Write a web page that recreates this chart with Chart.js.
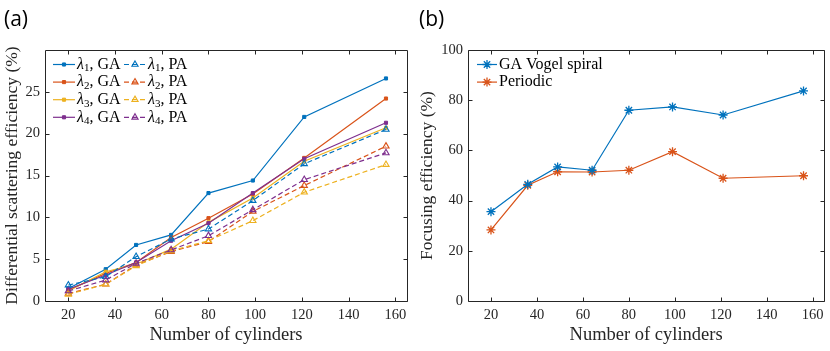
<!DOCTYPE html>
<html>
<head>
<meta charset="utf-8">
<script src="https://cdn.jsdelivr.net/npm/chart.js@4.4.1/dist/chart.umd.min.js"></script>
<style>
  html, body { margin: 0; padding: 0; background: #fff; }
  .panel { position: absolute; top: 0; width: 415px; height: 351px; }
  .tag { position: absolute; top: 4px; font: 21px "Open Sans", sans-serif; color: #000; }
</style>
</head>
<body>
<div class="panel" style="left:0"><canvas id="chartA" width="415" height="351"></canvas></div>
<div class="panel" style="left:415px"><canvas id="chartB" width="415" height="351"></canvas></div>
<div class="tag" style="left:4px">(a)</div>
<div class="tag" style="left:419px">(b)</div>
<script>
// number of cylinders (shared by both panels)
const cylinders = [20, 36, 49, 64, 80, 99, 121, 156];
const xTicks = [20, 40, 60, 80, 100, 120, 140, 160];

// (a) differential scattering efficiency (%)
const ga1 = [1.5, 3.8, 6.7, 7.9, 12.9, 14.4, 22.0, 26.6];
const ga2 = [1.3, 3.3, 4.6, 7.6, 9.9, 12.8, 17.1, 24.2];
const ga3 = [1.2, 3.5, 4.4, 6.2, 9.4, 12.3, 16.7, 20.7];
const ga4 = [1.4, 3.1, 4.6, 7.2, 9.3, 12.9, 17.0, 21.3];
const pa1 = [1.9, 2.9, 5.3, 7.4, 8.6, 12.0, 16.4, 20.5];
const pa2 = [0.9, 2.0, 4.3, 5.9, 7.1, 10.7, 13.8, 18.5];
const pa3 = [0.8, 2.0, 4.2, 6.0, 7.2, 9.6, 13.0, 16.3];
const pa4 = [1.2, 2.5, 4.5, 6.1, 7.8, 10.9, 14.5, 17.7];
const yTicksA = [0, 5, 10, 15, 20, 25];

// (b) focusing efficiency (%)
const vogel = [35.6, 46.5, 53.4, 52.1, 76.0, 77.3, 74.1, 83.7];
const periodic = [28.3, 46.1, 51.5, 51.4, 52.1, 59.5, 48.9, 49.9];
const yTicksB = [0, 20, 40, 60, 80, 100];

const colors = ['#0072BD', '#D95319', '#EDB120', '#7E2F8E'];
const serif = '"Liberation Serif", "DejaVu Serif", serif';
const axisColor = '#262626';

function pts(ys) {
    return ys.map((y, i) => ({ x: cylinders[i], y: y }));
}

function gaSet(label, ys, c, i) {
    return {
        label: label, data: pts(ys), borderColor: c, backgroundColor: c,
        borderWidth: 1.2, pointStyle: 'rect', pointRadius: 2.2, pointBorderWidth: 1,
        tension: 0, order: -i
    };
}

function paSet(label, ys, c, i) {
    return {
        label: label, data: pts(ys), borderColor: c, backgroundColor: 'rgba(0,0,0,0)',
        borderWidth: 1.2, borderDash: [5, 3], pointStyle: 'triangle', pointRadius: 3.6,
        pointBorderWidth: 1.1, tension: 0, order: -i
    };
}

// box around the axes with inward ticks on all four sides
const boxPlugin = {
    id: 'box',
    afterDraw(chart) {
        const ctx = chart.ctx;
        const a = chart.chartArea;
        const x = chart.scales.x, y = chart.scales.y;
        const L = Math.round(a.left) + 0.5, R = Math.round(a.right) + 0.5;
        const T = Math.round(a.top) + 0.5, B = Math.round(a.bottom) + 0.5;
        ctx.save();
        ctx.strokeStyle = axisColor;
        ctx.lineWidth = 1;
        ctx.beginPath();
        ctx.rect(L, T, R - L, B - T);
        x.ticks.forEach(t => {
            const px = Math.round(x.getPixelForValue(t.value)) + 0.5;
            ctx.moveTo(px, B); ctx.lineTo(px, B - 4);
            ctx.moveTo(px, T); ctx.lineTo(px, T + 4);
        });
        y.ticks.forEach(t => {
            const py = Math.round(y.getPixelForValue(t.value)) + 0.5;
            ctx.moveTo(L, py); ctx.lineTo(L + 4, py);
            ctx.moveTo(R, py); ctx.lineTo(R - 4, py);
        });
        ctx.stroke();
        ctx.restore();
    }
};

// legend drawn inside the axes, MATLAB style
function drawLabel(ctx, text, x, y) {
    const m = text.match(/^λ(\d)(.*)$/);
    ctx.textBaseline = 'middle';
    ctx.fillStyle = '#000';
    if (!m) {
        ctx.font = '16px ' + serif;
        ctx.fillText(text, x, y);
        return;
    }
    ctx.font = 'italic 16px ' + serif;
    ctx.fillText('λ', x, y);
    x += ctx.measureText('λ').width;
    ctx.font = '11px ' + serif;
    ctx.fillText(m[1], x, y + 4);
    x += ctx.measureText(m[1]).width;
    ctx.font = '16px ' + serif;
    ctx.fillText(m[2], x, y);
}

const legendPlugin = {
    id: 'boxLegend',
    afterDatasetsDraw(chart, args, opts) {
        const ctx = chart.ctx;
        chart.data.datasets.forEach((ds, i) => {
            const col = Math.floor(i / opts.rows), row = i % opts.rows;
            const x0 = opts.x[col], y0 = opts.y + row * opts.rowGap;
            const x1 = x0 + opts.lineLen;
            ctx.save();
            ctx.strokeStyle = ds.borderColor;
            ctx.lineWidth = ds.borderWidth;
            ctx.setLineDash(ds.borderDash || []);
            ctx.beginPath();
            ctx.moveTo(x0, y0); ctx.lineTo(x1, y0);
            ctx.stroke();
            ctx.setLineDash([]);
            ctx.fillStyle = ds.backgroundColor;
            ctx.lineWidth = ds.pointBorderWidth;
            Chart.helpers.drawPoint(ctx, {
                pointStyle: ds.pointStyle, radius: ds.pointRadius, rotation: 0,
                borderWidth: ds.pointBorderWidth
            }, (x0 + x1) / 2, y0);
            drawLabel(ctx, ds.label, x1 + 2, y0);
            ctx.restore();
        });
    }
};

function baseOptions(yTicks, yMax, yTitle, yWidth, padRight, legend) {
    return {
        responsive: false,
        animation: false,
        layout: { padding: { left: 0, top: 50, right: padRight, bottom: 0 } },
        plugins: { legend: { display: false }, tooltip: { enabled: false }, boxLegend: legend },
        scales: {
            x: {
                type: 'linear', min: 10, max: 165,
                afterBuildTicks: s => { s.ticks = xTicks.map(v => ({ value: v })); },
                afterFit: s => { s.height = 50; },
                grid: { display: false, drawTicks: false },
                border: { display: false },
                ticks: { padding: 5, color: '#262626', font: { family: serif, size: 14.5 } },
                title: {
                    display: true, text: 'Number of cylinders', color: '#262626',
                    font: { family: serif, size: 18.5 }, padding: { top: 0, bottom: 5 }
                }
            },
            y: {
                type: 'linear', min: 0, max: yMax,
                afterBuildTicks: s => { s.ticks = yTicks.map(v => ({ value: v })); },
                afterFit: s => { s.width = yWidth; },
                grid: { display: false, drawTicks: false },
                border: { display: false },
                ticks: { padding: 5, color: '#262626', font: { family: serif, size: 14.5 } },
                title: {
                    display: true, text: yTitle, color: '#262626',
                    font: { family: serif, size: 17.5 }, padding: { top: 2, bottom: 0 }
                }
            }
        }
    };
}

new Chart(document.getElementById('chartA'), {
    type: 'line',
    data: {
        datasets: [
            gaSet('λ1, GA', ga1, colors[0], 0),
            gaSet('λ2, GA', ga2, colors[1], 1),
            gaSet('λ3, GA', ga3, colors[2], 2),
            gaSet('λ4, GA', ga4, colors[3], 3),
            paSet('λ1, PA', pa1, colors[0], 4),
            paSet('λ2, PA', pa2, colors[1], 5),
            paSet('λ3, PA', pa3, colors[2], 6),
            paSet('λ4, PA', pa4, colors[3], 7)
        ]
    },
    options: baseOptions(yTicksA, 30, 'Differential scattering efficiency (%)', 45, 8,
        { rows: 4, x: [53, 124], y: 64.5, rowGap: 17.6, lineLen: 22 }),
    plugins: [boxPlugin, legendPlugin]
});

new Chart(document.getElementById('chartB'), {
    type: 'line',
    data: {
        datasets: [
            {
                label: 'GA Vogel spiral', data: pts(vogel), borderColor: colors[0], backgroundColor: colors[0],
                borderWidth: 1.2, pointStyle: 'star', pointRadius: 4.5, pointBorderWidth: 1.3, tension: 0
            },
            {
                label: 'Periodic', data: pts(periodic), borderColor: colors[1], backgroundColor: colors[1],
                borderWidth: 1.2, pointStyle: 'star', pointRadius: 4.5, pointBorderWidth: 1.3, tension: 0
            }
        ]
    },
    options: baseOptions(yTicksB, 100, 'Focusing efficiency (%)', 53, 4,
        { rows: 2, x: [62], y: 64.5, rowGap: 17.6, lineLen: 20 }),
    plugins: [boxPlugin, legendPlugin]
});
</script>
</body>
</html>
